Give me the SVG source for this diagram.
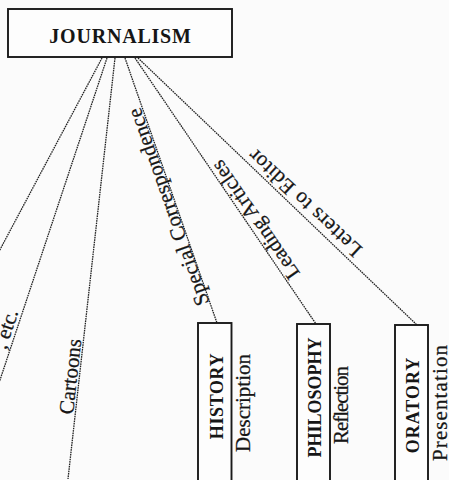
<svg xmlns="http://www.w3.org/2000/svg" width="449" height="480" viewBox="0 0 449 480">
<style>
.box{fill:#fdfdfd;stroke:#1a1a1a;stroke-width:1.9}
.con{fill:none;stroke:#222;stroke-width:1.3;stroke-dasharray:1.6,0.8}
.bold{font-family:"Liberation Serif",serif;font-weight:bold;fill:#161616}
.lab{font-family:"Liberation Serif",serif;font-size:21px;fill:#161616;stroke:#161616;stroke-width:0.25}
</style>
<rect x="0" y="0" width="449" height="480" fill="#fbfbfb"/>
<g id="connectors">
<line class="con" x1="102" y1="58" x2="-5" y2="259"/>
<line class="con" x1="107" y1="58" x2="-2" y2="386"/>
<line class="con" x1="115" y1="58" x2="68" y2="479"/>
<line class="con" x1="125" y1="58" x2="217" y2="323"/>
<line class="con" x1="135" y1="58" x2="316" y2="324"/>
<line class="con" x1="138" y1="58" x2="417" y2="325"/>
</g>
<g id="labels">
<text class="lab" text-anchor="end" transform="translate(18.5,312) rotate(-71.6)">, etc.</text>
<text class="lab" text-anchor="middle" transform="translate(77.2,377.3) rotate(-83.6)">Cartoons</text>
<text class="lab" text-anchor="middle" textLength="208" lengthAdjust="spacing" transform="translate(174.9,204.7) rotate(-109.5)">Special Correspondence</text>
<text class="lab" text-anchor="middle" transform="translate(261,216) rotate(-124.6)">Leading Articles</text>
<text class="lab" text-anchor="middle" textLength="147" lengthAdjust="spacing" transform="translate(309.5,198.1) rotate(-136.9)">Letters to Editor</text>
</g>
<g id="journalism">
<rect class="box" x="8" y="9" width="224" height="48"/>
<text class="bold" x="120.5" y="42.5" font-size="20" letter-spacing="0.8" text-anchor="middle">JOURNALISM</text>
</g>
<g id="history">
<rect class="box" x="198" y="323" width="33.5" height="170"/>
<text class="bold" font-size="18" letter-spacing="0.6" text-anchor="middle" dominant-baseline="central" transform="translate(216.5,396) rotate(-90)">HISTORY</text>
<text class="lab" text-anchor="middle" dominant-baseline="central" transform="translate(243,403) rotate(-90)">Description</text>
</g>
<g id="philosophy">
<rect class="box" x="297" y="324" width="33" height="170"/>
<text class="bold" font-size="18" text-anchor="middle" dominant-baseline="central" transform="translate(315,397.5) rotate(-90)">PHILOSOPHY</text>
<text class="lab" text-anchor="middle" textLength="78" lengthAdjust="spacing" dominant-baseline="central" transform="translate(341,405) rotate(-90)">Reflection</text>
</g>
<g id="oratory">
<rect class="box" x="395" y="325" width="33" height="170"/>
<text class="bold" font-size="18" letter-spacing="1" text-anchor="middle" dominant-baseline="central" transform="translate(412.5,405) rotate(-90)">ORATORY</text>
<text class="lab" text-anchor="middle" textLength="116" lengthAdjust="spacing" dominant-baseline="central" transform="translate(439.5,403) rotate(-90)">Presentation</text>
</g>
</svg>
